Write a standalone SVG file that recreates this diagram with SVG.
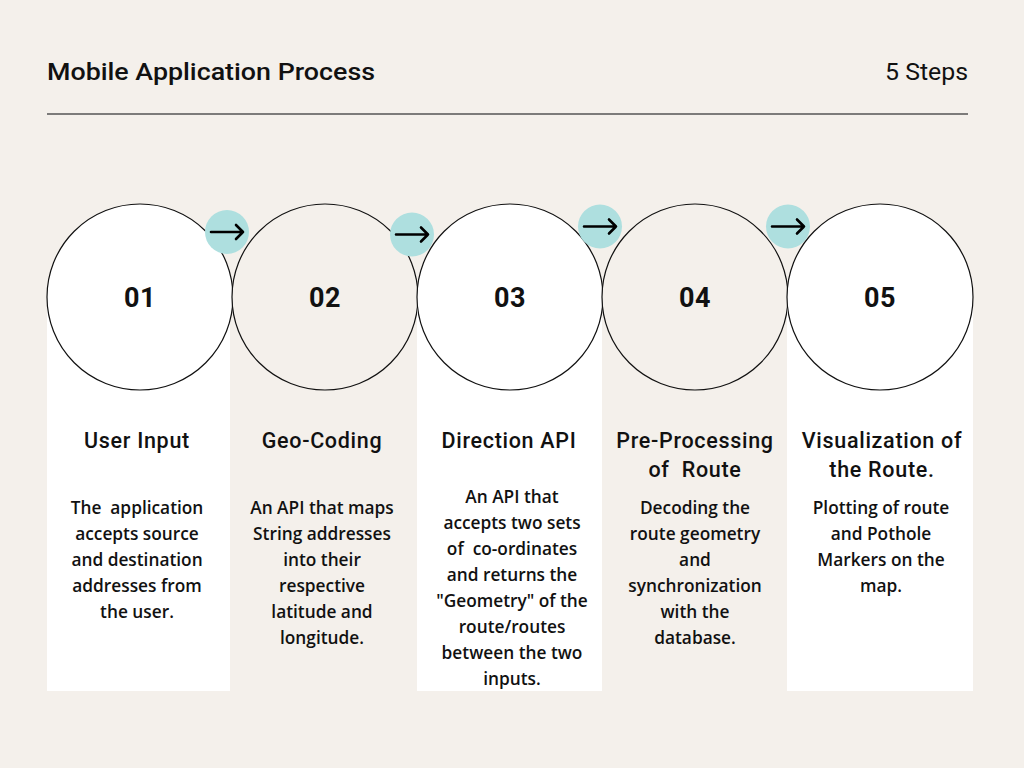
<svg xmlns="http://www.w3.org/2000/svg" width="1024" height="768" viewBox="0 0 1024 768">
<defs>
<style>
.bg{fill:#F4F0EB}
.panel{fill:#FFFFFF}
.ring{stroke:#111;stroke-width:1.2}
.white{fill:#FFFFFF}
.clear{fill:#F4F0EB}
.badge{fill:#AEDFDF}
.arr{fill:none;stroke:#000;stroke-width:2.6;stroke-linecap:round;stroke-linejoin:round}
.num{font-family:Roboto,"Liberation Sans",sans-serif;font-weight:700;font-size:27px;fill:#111;text-anchor:middle;letter-spacing:0.5px}
.title{font-family:Roboto,"Liberation Sans",sans-serif;font-weight:500;font-size:21.5px;fill:#111;text-anchor:middle;letter-spacing:0.7px;white-space:pre}
.body{font-family:"Open Sans","Noto Sans",sans-serif;font-weight:600;font-size:17.3px;fill:#111;text-anchor:middle;white-space:pre}
.head{font-family:Roboto,"Liberation Sans",sans-serif;font-weight:500;font-size:24px;fill:#111}
</style>
</defs>
<rect class="bg" x="0" y="0" width="1024" height="768"/>
<text class="head" x="47" y="80" textLength="328" lengthAdjust="spacingAndGlyphs">Mobile Application Process</text>
<text class="head" x="885" y="80" textLength="83" lengthAdjust="spacingAndGlyphs" style="font-weight:400">5 Steps</text>
<line x1="47" y1="114" x2="968" y2="114" stroke="#555" stroke-width="1.5"/>

<g id="step1">
<rect class="panel" x="47" y="297" width="183" height="394"/>
<circle class="ring white" cx="140" cy="297" r="93"/>
<text class="num" x="140" y="307">01</text>
<text class="title" x="137" y="448">User Input</text>
<text class="body" x="137" xml:space="preserve"><tspan x="137" y="514">The  application</tspan><tspan x="137" y="540">accepts source</tspan><tspan x="137" y="566">and destination</tspan><tspan x="137" y="592">addresses from</tspan><tspan x="137" y="618">the user.</tspan></text>
</g>

<g id="step2">
<circle class="ring clear" cx="325" cy="297" r="93"/>
<text class="num" x="325" y="307">02</text>
<text class="title" x="322" y="448">Geo-Coding</text>
<text class="body" x="322"><tspan x="322" y="514">An API that maps</tspan><tspan x="322" y="540">String addresses</tspan><tspan x="322" y="566">into their</tspan><tspan x="322" y="592">respective</tspan><tspan x="322" y="618">latitude and</tspan><tspan x="322" y="644">longitude.</tspan></text>
</g>

<g id="step3">
<rect class="panel" x="417" y="297" width="185" height="394"/>
<circle class="ring white" cx="510" cy="297" r="93"/>
<text class="num" x="510" y="307">03</text>
<text class="title" x="509" y="448">Direction API</text>
<text class="body" x="512" xml:space="preserve"><tspan x="512" y="503">An API that</tspan><tspan x="512" y="529">accepts two sets</tspan><tspan x="512" y="555">of  co-ordinates</tspan><tspan x="512" y="581">and returns the</tspan><tspan x="512" y="607">"Geometry" of the</tspan><tspan x="512" y="633">route/routes</tspan><tspan x="512" y="659">between the two</tspan><tspan x="512" y="685">inputs.</tspan></text>
</g>

<g id="step4">
<circle class="ring clear" cx="695" cy="297" r="93"/>
<text class="num" x="695" y="307">04</text>
<text class="title" x="695" y="448">Pre-Processing</text>
<text class="title" x="695" y="477" xml:space="preserve">of  Route</text>
<text class="body" x="695"><tspan x="695" y="514">Decoding the</tspan><tspan x="695" y="540">route geometry</tspan><tspan x="695" y="566">and</tspan><tspan x="695" y="592">synchronization</tspan><tspan x="695" y="618">with the</tspan><tspan x="695" y="644">database.</tspan></text>
</g>

<g id="step5">
<rect class="panel" x="787" y="297" width="186" height="394"/>
<circle class="ring white" cx="880" cy="297" r="93"/>
<text class="num" x="880" y="307">05</text>
<text class="title" x="882" y="448">Visualization of</text>
<text class="title" x="882" y="477">the Route.</text>
<text class="body" x="881"><tspan x="881" y="514">Plotting of route</tspan><tspan x="881" y="540">and Pothole</tspan><tspan x="881" y="566">Markers on the</tspan><tspan x="881" y="592">map.</tspan></text>
</g>

<g id="connectors">
<circle class="badge" cx="227" cy="232" r="22"/>
<path class="arr" d="M211 232 H243 M236 225 L243 232 L236 239"/>
<circle class="badge" cx="412" cy="234.5" r="22"/>
<path class="arr" d="M396 234.5 H428 M421 227.5 L428 234.5 L421 241.5"/>
<circle class="badge" cx="600" cy="226.5" r="22"/>
<path class="arr" d="M584 226.5 H616 M609 219.5 L616 226.5 L609 233.5"/>
<circle class="badge" cx="788" cy="226.5" r="22"/>
<path class="arr" d="M772 226.5 H804 M797 219.5 L804 226.5 L797 233.5"/>
</g>
</svg>
